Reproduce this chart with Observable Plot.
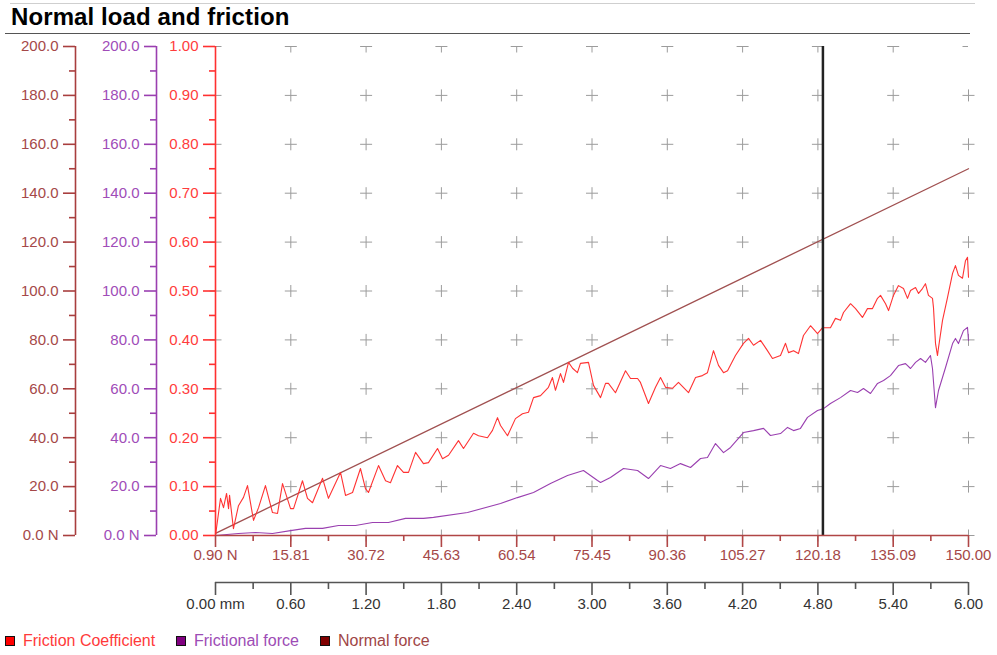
<!DOCTYPE html>
<html>
<head>
<meta charset="utf-8">
<script src="https://cdn.jsdelivr.net/npm/d3@7"></script>
<script src="https://cdn.jsdelivr.net/npm/@observablehq/plot@0.6"></script>
<style>
  html, body { margin: 0; padding: 0; background: #fff; }
  body { width: 997px; height: 655px; overflow: hidden; font-family: "Liberation Sans", Arial, sans-serif; }
  #title { position: relative; height: 36px; }
  #title .top { position: absolute; left: 10px; right: 22px; top: 3px; height: 1px; background: #cfcfcf; }
  #title .bottom { position: absolute; left: 5px; right: 27px; top: 33px; height: 1px; background: #555; }
  #title .text { position: absolute; left: 11px; top: 3px; font-weight: bold; font-size: 24px; color: #000; letter-spacing: 0.1px; }
  #chart svg { display: block; }
  #legend { position: relative; height: 35px; font-size: 16px; }
  #legend .item { position: absolute; top: 12px; display: flex; align-items: center; }
  #legend .sw { width: 8px; height: 8px; border: 1.5px solid #111; margin-right: 8px; }
</style>
</head>
<body>
<div id="title"><div class="top"></div><div class="text">Normal load and friction</div><div class="bottom"></div></div>
<div id="chart"></div>
<div id="legend"></div>
<script>
// ---- Data ----
const frictionMm = [0.000,0.040,0.064,0.088,0.104,0.112,0.143,0.183,0.223,0.255,0.303,0.343,0.398,0.454,0.494,0.534,0.598,0.622,0.693,0.733,0.773,0.853,0.900,0.996,1.036,1.092,1.155,1.195,1.219,1.299,1.355,1.394,1.450,1.498,1.538,1.594,1.657,1.697,1.769,1.809,1.857,1.936,1.976,2.056,2.096,2.167,2.207,2.247,2.271,2.327,2.390,2.446,2.494,2.534,2.590,2.653,2.685,2.709,2.749,2.773,2.813,2.845,2.884,2.908,2.972,3.012,3.068,3.108,3.131,3.187,3.267,3.307,3.363,3.386,3.450,3.506,3.546,3.586,3.641,3.689,3.769,3.825,3.880,3.920,3.968,4.008,4.048,4.080,4.143,4.207,4.247,4.287,4.343,4.398,4.438,4.502,4.542,4.566,4.606,4.645,4.685,4.741,4.797,4.837,4.900,4.940,4.980,5.004,5.060,5.100,5.155,5.195,5.235,5.275,5.299,5.339,5.363,5.402,5.442,5.482,5.514,5.538,5.578,5.602,5.633,5.657,5.681,5.713,5.721,5.737,5.753,5.761,5.793,5.833,5.873,5.896,5.920,5.952,5.976,5.992,6.000];
const frictionCoef = [0.000,0.076,0.057,0.086,0.055,0.082,0.014,0.061,0.078,0.102,0.031,0.057,0.102,0.047,0.045,0.106,0.055,0.055,0.112,0.076,0.067,0.117,0.076,0.129,0.082,0.088,0.137,0.096,0.088,0.143,0.112,0.108,0.143,0.129,0.129,0.170,0.147,0.149,0.178,0.157,0.164,0.194,0.178,0.209,0.204,0.200,0.215,0.241,0.225,0.204,0.239,0.249,0.252,0.282,0.286,0.303,0.323,0.297,0.331,0.313,0.354,0.342,0.333,0.352,0.354,0.307,0.282,0.311,0.311,0.292,0.337,0.321,0.321,0.313,0.270,0.303,0.323,0.303,0.301,0.313,0.292,0.323,0.327,0.333,0.378,0.348,0.333,0.337,0.368,0.393,0.403,0.389,0.399,0.378,0.362,0.368,0.393,0.374,0.378,0.372,0.409,0.429,0.413,0.425,0.425,0.444,0.440,0.456,0.474,0.464,0.446,0.464,0.464,0.485,0.491,0.474,0.460,0.491,0.511,0.505,0.485,0.501,0.507,0.495,0.505,0.515,0.491,0.485,0.466,0.393,0.368,0.384,0.440,0.487,0.536,0.552,0.532,0.526,0.562,0.569,0.528];

const forceMm = [0.000,0.183,0.319,0.454,0.598,0.717,0.853,0.980,1.116,1.251,1.378,1.514,1.657,1.737,2.008,2.271,2.406,2.534,2.669,2.805,2.932,3.044,3.068,3.147,3.251,3.363,3.450,3.546,3.625,3.705,3.785,3.865,3.920,3.984,4.048,4.104,4.207,4.287,4.367,4.422,4.502,4.558,4.606,4.661,4.717,4.797,4.845,4.900,4.980,5.060,5.116,5.163,5.219,5.275,5.323,5.378,5.442,5.498,5.538,5.578,5.618,5.657,5.697,5.713,5.737,5.761,5.817,5.873,5.896,5.920,5.960,5.992,6.000];
const forceN = [0.0,0.8,1.2,0.8,2.0,2.9,2.9,4.1,4.1,5.3,5.3,7.0,7.0,7.4,9.4,13.1,15.5,17.6,21.3,24.5,26.6,22.5,21.7,23.7,27.4,26.6,23.3,28.6,27.4,29.4,27.8,31.5,31.9,37.6,33.9,36.0,42.1,42.9,43.8,40.9,41.7,44.2,42.9,43.8,48.3,51.1,51.9,54.0,56.4,59.3,58.5,60.1,58.1,62.2,63.4,65.4,69.5,70.3,68.3,70.8,72.4,70.8,73.6,68.3,52.3,59.3,68.7,78.5,80.6,78.5,83.8,85.1,79.8];

const normalMm = [0, 6];
const normalN = [0.9, 150.0];

const markerMm = [4.84];

// ticks and labels
const mmTicks = [0, 0.6, 1.2, 1.8, 2.4, 3.0, 3.6, 4.2, 4.8, 5.4, 6.0];
const mmMinor = [0.3, 0.9, 1.5, 2.1, 2.7, 3.3, 3.9, 4.5, 5.1, 5.7];
const normalTickLabels = ["0.90 N","15.81","30.72","45.63","60.54","75.45","90.36","105.27","120.18","135.09","150.00"];
const mmTickLabels = ["0.00 mm","0.60","1.20","1.80","2.40","3.00","3.60","4.20","4.80","5.40","6.00"];
const coefTicks = [0, 0.1, 0.2, 0.3, 0.4, 0.5, 0.6, 0.7, 0.8, 0.9, 1.0];
const coefMinor = [0.05, 0.15, 0.25, 0.35, 0.45, 0.55, 0.65, 0.75, 0.85, 0.95];
const coefTickLabels = ["0.00","0.10","0.20","0.30","0.40","0.50","0.60","0.70","0.80","0.90","1.00"];
const forceTickLabels = ["0.0 N","20.0","40.0","60.0","80.0","100.0","120.0","140.0","160.0","180.0","200.0"];
const normalAxisLabels = ["0.0 N","20.0","40.0","60.0","80.0","100.0","120.0","140.0","160.0","180.0","200.0"];
const forceMax = 200;

const seriesNames = ["Friction Coefficient", "Frictional force", "Normal force"];
const seriesColors = ["#ff3333", "#9a40b0", "#9a3a3a"];
const legendText = ["#ff3a3a", "#9d4cb5", "#a04646"];

// ---- Build ----
const friction = frictionMm.map((m, i) => ({mm: m, v: frictionCoef[i]}));
const force = forceMm.map((m, i) => ({mm: m, v: forceN[i]}));
const normal = normalMm.map((m, i) => ({mm: m, v: normalN[i]}));
const grid = d3.cross(mmTicks, coefTicks);
const gridTop = grid.filter(d => d[1] === 1);
const gridRest = grid.filter(d => d[1] !== 1);

const cross = {
  draw(ctx, size) {
    const r = Math.sqrt(size / Math.PI);
    ctx.moveTo(-r, 0); ctx.lineTo(r, 0);
    ctx.moveTo(0, -r); ctx.lineTo(0, r);
  }
};

const cNormal = "#a83e3e", tNormal = "#a54848";
const cPurple = "#9a3fb0", tPurple = "#a04cb8";
const cRed = "#ff3030", tRed = "#ff3c3c";
const fs = 15;
const mmIdx = d => Math.round(d / 0.6);
const cIdx = d => Math.round(d * 10);

const leftAxis = (dx, stroke, fill, labels) => [
  Plot.ruleX([0], {dx, stroke, strokeWidth: 1.6}),
  Plot.axisY(coefTicks, {anchor: "left", dx, tickSize: 12, tickPadding: 5, stroke, strokeWidth: 1.6, fill, fontSize: fs, label: null, tickFormat: d => labels[cIdx(d)]}),
  Plot.axisY(coefMinor, {anchor: "left", dx, tickSize: 6, stroke, strokeWidth: 1.6, fill: "none", label: null, tickFormat: () => ""})
];

const chart = Plot.plot({
  width: 997,
  height: 584,
  marginTop: 10,
  marginLeft: 215,
  marginRight: 29,
  marginBottom: 85,
  style: {fontFamily: "'Liberation Sans', Arial, sans-serif", fontSize: "15px", background: "white"},
  x: {domain: [0, 6]},
  y: {domain: [0, 1]},
  marks: [
    Plot.dot(gridRest, {x: d => d[0], y: d => d[1], r: 6, symbol: cross, fill: "none", stroke: "#9c9c9c", strokeWidth: 1}),
    Plot.dot(gridTop, {x: d => d[0], y: d => d[1], r: 6, symbol: cross, fill: "none", stroke: "#9c9c9c", strokeWidth: 1, clip: true}),
    Plot.line(normal, {x: "mm", y: d => d.v / forceMax, stroke: "#a05050", strokeWidth: 1.3}),
    Plot.line(force, {x: "mm", y: d => d.v / forceMax, stroke: seriesColors[1], strokeWidth: 1.1}),
    Plot.line(friction, {x: "mm", y: "v", stroke: seriesColors[0], strokeWidth: 1.1}),
    Plot.ruleX(markerMm, {stroke: "#222", strokeWidth: 2.5}),
    // left axes
    ...leftAxis(-140, cNormal, tNormal, normalAxisLabels),
    ...leftAxis(-59, cPurple, tPurple, forceTickLabels),
    ...leftAxis(0, cRed, tRed, coefTickLabels),
    // bottom normal-force axis
    Plot.ruleY([0], {stroke: "#b04646", strokeWidth: 1.6}),
    Plot.axisX(mmTicks, {anchor: "bottom", tickSize: 12, tickPadding: 2, stroke: "#b04646", strokeWidth: 1.6, fill: tNormal, fontSize: fs, label: null, tickFormat: d => normalTickLabels[mmIdx(d)]}),
    Plot.axisX(mmMinor, {anchor: "bottom", tickSize: 6, stroke: "#b04646", strokeWidth: 1.6, fill: "none", label: null, tickFormat: () => ""}),
    // bottom mm axis
    Plot.ruleY([0], {dy: 47, stroke: "#555", strokeWidth: 1.6}),
    Plot.axisX(mmTicks, {anchor: "bottom", dy: 47, tickSize: 13, tickPadding: 3, stroke: "#555", strokeWidth: 1.6, fill: "#333", fontSize: fs, label: null, tickFormat: d => mmTickLabels[mmIdx(d)]}),
    Plot.axisX(mmMinor, {anchor: "bottom", dy: 47, tickSize: 7, stroke: "#555", strokeWidth: 1.6, fill: "none", label: null, tickFormat: () => ""})
  ]
});
document.getElementById("chart").appendChild(chart);

// legend
const legendX = [5, 176, 320];
const legend = document.getElementById("legend");
seriesNames.forEach((name, i) => {
  const item = document.createElement("div");
  item.className = "item";
  item.style.left = legendX[i] + "px";
  item.style.color = legendText[i];
  const sw = document.createElement("span");
  sw.className = "sw";
  sw.style.background = ["#ff0000", "#800080", "#800000"][i];
  item.appendChild(sw);
  item.appendChild(document.createTextNode(name));
  legend.appendChild(item);
});
</script>
</body>
</html>
